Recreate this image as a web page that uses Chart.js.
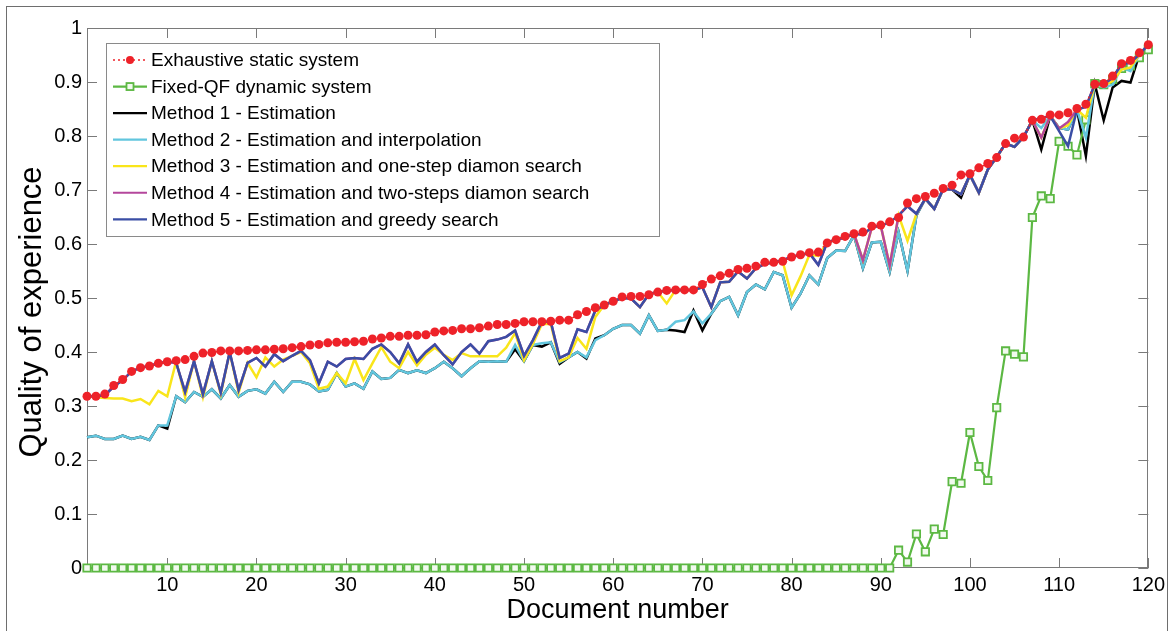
<!DOCTYPE html>
<html>
<head>
<meta charset="utf-8">
<script src="https://cdn.jsdelivr.net/npm/chart.js@4.4.1/dist/chart.umd.min.js"></script>
<style>
  html, body { margin: 0; padding: 0; background: #fff; overflow: hidden; }
  #wrap { position: relative; width: 1170px; height: 631px; }
  #frame { position: absolute; left: 6px; top: 6px; width: 1160px; height: 700px; border: 1px solid #6e6e6e; pointer-events: none; }
</style>
</head>
<body>
<div id="wrap">
  <canvas id="c"></canvas>
  <div id="frame"></div>
</div>
<script>
// ---------- DATA ----------
const documentNumbers = [
  1,2,3,4,5,6,7,8,9,10, 11,12,13,14,15,16,17,18,19,20,
  21,22,23,24,25,26,27,28,29,30, 31,32,33,34,35,36,37,38,39,40,
  41,42,43,44,45,46,47,48,49,50, 51,52,53,54,55,56,57,58,59,60,
  61,62,63,64,65,66,67,68,69,70, 71,72,73,74,75,76,77,78,79,80,
  81,82,83,84,85,86,87,88,89,90, 91,92,93,94,95,96,97,98,99,100,
  101,102,103,104,105,106,107,108,109,110, 111,112,113,114,115,116,117,118,119,120
];
const xTickLabels = [10,20,30,40,50,60,70,80,90,100,110,120];
const yTickValues = [0,0.1,0.2,0.3,0.4,0.5,0.6,0.7,0.8,0.9,1];
const yTickLabels = ["0","0.1","0.2","0.3","0.4","0.5","0.6","0.7","0.8","0.9","1"];
const seriesNames = [
  "Exhaustive static system",
  "Fixed-QF dynamic system",
  "Method 1 - Estimation",
  "Method 2 - Estimation and interpolation",
  "Method 3 - Estimation and one-step diamon search",
  "Method 4 - Estimation and two-steps diamon search",
  "Method 5 - Estimation and greedy search"
];
const xTitle = "Document number";
const yTitle = "Quality of experience";

const exhaustive = [
  0.318,0.318,0.322,0.338,0.349,0.364,0.371,0.374,0.379,0.382,
  0.384,0.386,0.392,0.398,0.399,0.402,0.402,0.402,0.403,0.404,
  0.404,0.405,0.406,0.408,0.410,0.413,0.414,0.417,0.418,0.418,
  0.419,0.420,0.424,0.426,0.429,0.429,0.431,0.431,0.432,0.437,
  0.439,0.440,0.443,0.443,0.445,0.448,0.451,0.451,0.453,0.456,
  0.456,0.456,0.457,0.459,0.459,0.469,0.475,0.482,0.487,0.494,
  0.502,0.503,0.503,0.506,0.511,0.514,0.515,0.515,0.515,0.525,
  0.535,0.541,0.546,0.553,0.555,0.559,0.566,0.566,0.568,0.576,
  0.580,0.584,0.585,0.602,0.608,0.614,0.619,0.622,0.633,0.635,
  0.641,0.649,0.676,0.684,0.688,0.694,0.703,0.709,0.728,0.730,
  0.741,0.749,0.760,0.786,0.796,0.798,0.829,0.831,0.839,0.839,
  0.843,0.851,0.859,0.896,0.897,0.911,0.934,0.940,0.954,0.969
];
const fixedQF = [
  0,0,0,0,0,0,0,0,0,0, 0,0,0,0,0,0,0,0,0,0,
  0,0,0,0,0,0,0,0,0,0, 0,0,0,0,0,0,0,0,0,0,
  0,0,0,0,0,0,0,0,0,0, 0,0,0,0,0,0,0,0,0,0,
  0,0,0,0,0,0,0,0,0,0, 0,0,0,0,0,0,0,0,0,0,
  0,0,0,0,0,0,0,0,0,0,
  0,0.033,0.011,0.063,0.030,0.072,0.062,0.160,0.157,0.251,
  0.188,0.162,0.297,0.402,0.396,0.391,0.649,0.689,0.684,0.790,
  0.781,0.765,0.830,0.897,0.895,0.905,0.925,0.930,0.945,0.960
];
const method1 = [
  0.242,0.245,0.239,0.239,0.245,0.239,0.243,0.237,0.264,0.258,
  0.318,0.307,0.326,0.317,0.331,0.314,0.339,0.317,0.328,0.331,
  0.323,0.345,0.326,0.345,0.345,0.340,0.327,0.330,0.361,0.336,
  0.342,0.332,0.364,0.350,0.352,0.367,0.361,0.366,0.361,0.370,
  0.382,0.370,0.355,0.370,0.383,0.382,0.383,0.382,0.405,0.383,
  0.413,0.410,0.418,0.378,0.390,0.400,0.388,0.425,0.431,0.443,
  0.450,0.450,0.434,0.468,0.439,0.441,0.440,0.437,0.477,0.440,
  0.471,0.494,0.502,0.468,0.511,0.525,0.516,0.548,0.542,0.482,
  0.508,0.542,0.525,0.574,0.588,0.587,0.616,0.555,0.603,0.604,
  0.548,0.622,0.550,0.653,0.684,0.665,0.702,0.701,0.686,0.728,
  0.695,0.738,0.761,0.786,0.780,0.798,0.829,0.775,0.837,0.815,
  0.812,0.849,0.763,0.896,0.829,0.890,0.902,0.899,0.951,0.969
];
const method2 = [
  0.242,0.245,0.239,0.239,0.245,0.239,0.243,0.237,0.264,0.264,
  0.318,0.307,0.326,0.317,0.331,0.314,0.339,0.317,0.328,0.331,
  0.323,0.345,0.326,0.345,0.345,0.340,0.327,0.330,0.361,0.336,
  0.342,0.332,0.364,0.350,0.352,0.367,0.361,0.366,0.361,0.370,
  0.382,0.370,0.355,0.370,0.383,0.382,0.383,0.382,0.413,0.383,
  0.413,0.416,0.418,0.381,0.390,0.400,0.390,0.422,0.431,0.443,
  0.450,0.450,0.434,0.468,0.439,0.441,0.456,0.459,0.475,0.453,
  0.471,0.494,0.502,0.468,0.511,0.525,0.516,0.548,0.542,0.482,
  0.508,0.542,0.525,0.574,0.588,0.587,0.616,0.555,0.603,0.604,
  0.548,0.622,0.550,0.653,0.684,0.665,0.702,0.701,0.692,0.728,
  0.695,0.738,0.761,0.786,0.780,0.798,0.829,0.815,0.837,0.815,
  0.812,0.849,0.797,0.896,0.890,0.895,0.927,0.920,0.951,0.969
];
const method3 = [
  0.318,0.316,0.315,0.314,0.314,0.309,0.313,0.303,0.328,0.318,
  0.383,0.316,0.383,0.316,0.383,0.322,0.399,0.325,0.380,0.353,
  0.390,0.373,0.386,0.393,0.400,0.379,0.332,0.336,0.361,0.342,
  0.387,0.348,0.379,0.409,0.382,0.370,0.400,0.375,0.395,0.408,
  0.395,0.385,0.398,0.392,0.392,0.392,0.392,0.408,0.435,0.385,
  0.415,0.452,0.452,0.383,0.390,0.426,0.406,0.465,0.487,0.494,
  0.500,0.499,0.483,0.507,0.511,0.490,0.515,0.515,0.515,0.520,
  0.483,0.529,0.530,0.549,0.536,0.555,0.563,0.566,0.568,0.505,
  0.540,0.580,0.578,0.603,0.608,0.612,0.619,0.570,0.631,0.634,
  0.560,0.653,0.606,0.656,0.684,0.665,0.702,0.701,0.692,0.728,
  0.695,0.738,0.761,0.786,0.780,0.798,0.829,0.797,0.837,0.814,
  0.820,0.849,0.834,0.896,0.893,0.902,0.923,0.927,0.951,0.969
];
const method4 = [
  0.318,0.318,0.320,0.336,0.348,0.364,0.371,0.374,0.379,0.382,
  0.380,0.326,0.383,0.322,0.383,0.325,0.400,0.330,0.380,0.389,
  0.373,0.396,0.383,0.393,0.402,0.385,0.342,0.382,0.373,0.387,
  0.389,0.387,0.406,0.414,0.400,0.379,0.414,0.382,0.400,0.414,
  0.394,0.377,0.400,0.414,0.397,0.420,0.423,0.428,0.440,0.393,
  0.422,0.456,0.456,0.389,0.397,0.442,0.437,0.477,0.487,0.494,
  0.500,0.499,0.483,0.507,0.511,0.514,0.515,0.515,0.515,0.520,
  0.483,0.529,0.530,0.549,0.536,0.555,0.563,0.566,0.570,0.576,
  0.580,0.583,0.561,0.603,0.608,0.612,0.619,0.570,0.631,0.634,
  0.560,0.653,0.670,0.656,0.684,0.665,0.702,0.701,0.692,0.728,
  0.695,0.738,0.761,0.786,0.780,0.798,0.829,0.797,0.837,0.814,
  0.826,0.849,0.854,0.896,0.896,0.908,0.933,0.936,0.951,0.969
];
const method5 = [
  0.318,0.318,0.320,0.336,0.348,0.364,0.371,0.374,0.379,0.382,
  0.380,0.326,0.383,0.322,0.383,0.325,0.400,0.330,0.380,0.389,
  0.373,0.396,0.383,0.393,0.402,0.385,0.342,0.382,0.373,0.387,
  0.389,0.387,0.406,0.414,0.400,0.379,0.414,0.382,0.400,0.414,
  0.394,0.377,0.400,0.414,0.397,0.420,0.423,0.428,0.440,0.393,
  0.422,0.456,0.456,0.389,0.397,0.442,0.437,0.477,0.487,0.494,
  0.500,0.499,0.483,0.507,0.511,0.514,0.515,0.515,0.515,0.520,
  0.483,0.529,0.530,0.549,0.536,0.555,0.563,0.566,0.570,0.576,
  0.580,0.583,0.561,0.603,0.608,0.612,0.619,0.617,0.631,0.634,
  0.640,0.653,0.670,0.656,0.684,0.665,0.702,0.701,0.692,0.728,
  0.695,0.738,0.761,0.786,0.780,0.798,0.829,0.833,0.837,0.809,
  0.781,0.849,0.854,0.896,0.896,0.908,0.933,0.936,0.951,0.969
];

// ---------- STYLE ----------
const FONT = "'Liberation Sans', Arial, Helvetica, sans-serif";
const colors = {
  red: '#ee2229', green: '#5cb843', black: '#000000', cyan: '#62c6de',
  yellow: '#f9e51a', magenta: '#b4479c', blue: '#3a4ea5', axis: '#7a7a7a'
};

const chartBox = {
  id: 'chartBox',
  beforeDatasetsDraw(chart) {
    const { ctx, chartArea: a, scales: { x, y } } = chart;
    ctx.save();
    ctx.strokeStyle = colors.axis;
    ctx.lineWidth = 1;
    ctx.strokeRect(Math.round(a.left) + 0.5, Math.round(a.top) + 0.5,
                   Math.round(a.right - a.left) - 1, Math.round(a.bottom - a.top) - 1);
    ctx.beginPath();
    const tl = 10;
    x.ticks.forEach(t => {
      const px = Math.round(x.getPixelForValue(t.value)) + 0.5;
      ctx.moveTo(px, a.bottom); ctx.lineTo(px, a.bottom - tl);
      ctx.moveTo(px, a.top); ctx.lineTo(px, a.top + tl);
    });
    y.ticks.forEach(t => {
      const py = Math.round(y.getPixelForValue(t.value)) + 0.5;
      ctx.moveTo(a.left, py); ctx.lineTo(a.left + tl, py);
      ctx.moveTo(a.right, py); ctx.lineTo(a.right - tl, py);
    });
    ctx.stroke();
    ctx.restore();
  },
  afterDraw(chart) {
    const { ctx, chartArea: a } = chart;
    ctx.save();
    // axis titles
    ctx.fillStyle = '#000';
    ctx.font = '27px ' + FONT;
    ctx.textAlign = 'center';
    ctx.textBaseline = 'alphabetic';
    ctx.fillText(xTitle, (a.left + a.right) / 2, 618);
    ctx.save();
    ctx.translate(32, 312);
    ctx.rotate(-Math.PI / 2);
    ctx.font = '31px ' + FONT;
    ctx.textBaseline = 'middle';
    ctx.fillText(yTitle, 0, 0);
    ctx.restore();

    // legend
    const lx = 106, ly = 43, lw = 553, lh = 193;
    ctx.fillStyle = '#fff';
    ctx.fillRect(lx, ly, lw, lh);
    ctx.strokeStyle = '#8a8a8a';
    ctx.lineWidth = 1;
    ctx.strokeRect(lx + 0.5, ly + 0.5, lw, lh);
    const ds = chart.data.datasets;
    ds.forEach((d, i) => {
      const ry = 60 + i * 26.55;
      ctx.save();
      ctx.strokeStyle = d.borderColor;
      ctx.lineWidth = Math.min(d.borderWidth, 2.2);
      ctx.setLineDash(d.borderDash || []);
      ctx.beginPath();
      ctx.moveTo(113, ry); ctx.lineTo(147, ry);
      ctx.stroke();
      ctx.setLineDash([]);
      if (d.pointRadius > 0) {
        if (d.pointStyle === 'rect') {
          ctx.fillStyle = d.pointBackgroundColor;
          ctx.lineWidth = 1.8;
          ctx.strokeStyle = d.pointBorderColor;
          ctx.fillRect(126.5, ry - 3.5, 7, 7);
          ctx.strokeRect(126.5, ry - 3.5, 7, 7);
        } else {
          ctx.fillStyle = d.pointBackgroundColor;
          ctx.beginPath();
          ctx.arc(130, ry, 4, 0, Math.PI * 2);
          ctx.fill();
        }
      }
      ctx.restore();
      ctx.fillStyle = '#000';
      ctx.font = '19px ' + FONT;
      ctx.textAlign = 'left';
      ctx.textBaseline = 'middle';
      ctx.fillText(seriesNames[i], 151, ry + 1);
    });
    ctx.restore();
  }
};

const lineDs = (label, data, color, order, extra) => Object.assign({
  label, data, borderColor: color, backgroundColor: color,
  borderWidth: 2.5, pointRadius: 0, pointHoverRadius: 0, tension: 0,
  fill: false, clip: false, order
}, extra || {});

new Chart(document.getElementById('c'), {
  type: 'line',
  data: {
    labels: documentNumbers,
    datasets: [
      lineDs(seriesNames[0], exhaustive, colors.red, 0, {
        borderWidth: 1.5, borderDash: [2, 3], pointRadius: 4.5, pointStyle: 'circle',
        pointBackgroundColor: colors.red, pointBorderColor: colors.red, pointBorderWidth: 0
      }),
      lineDs(seriesNames[1], fixedQF, colors.green, 5, {
        borderWidth: 2.2, pointRadius: 5.2, pointStyle: 'rect',
        pointBackgroundColor: '#f2faef', pointBorderColor: colors.green, pointBorderWidth: 1.8
      }),
      lineDs(seriesNames[2], method1, colors.black, 6),
      lineDs(seriesNames[3], method2, colors.cyan, 4),
      lineDs(seriesNames[4], method3, colors.yellow, 3),
      lineDs(seriesNames[5], method4, colors.magenta, 2),
      lineDs(seriesNames[6], method5, colors.blue, 1)
    ]
  },
  options: {
    responsive: true,
    maintainAspectRatio: false,
    animation: false,
    events: [],
    layout: { padding: { left: 0, top: 28, right: 18, bottom: 0 } },
    plugins: { legend: { display: false }, tooltip: { enabled: false }, title: { display: false } },
    scales: {
      x: {
        type: 'category',
        offset: false,
        grid: { display: false, drawTicks: false },
        border: { display: false },
        afterBuildTicks: s => { s.ticks = s.ticks.filter(t => xTickLabels.includes(documentNumbers[t.value])); },
        afterFit: s => { s.height = 63; },
        ticks: {
          autoSkip: false, maxRotation: 0, minRotation: 0, padding: 5,
          color: '#000', font: { family: FONT, size: 20 },
          callback: function (v) { return String(this.getLabelForValue(v)); }
        }
      },
      y: {
        type: 'linear', min: 0, max: 1,
        grid: { display: false, drawTicks: false },
        border: { display: false },
        afterBuildTicks: s => { s.ticks = yTickValues.map(v => ({ value: v })); },
        afterFit: s => { s.width = 87; },
        ticks: {
          padding: 5, color: '#000', font: { family: FONT, size: 20 },
          callback: v => yTickLabels[yTickValues.indexOf(v)]
        }
      }
    }
  },
  plugins: [chartBox]
});
</script>
</body>
</html>
